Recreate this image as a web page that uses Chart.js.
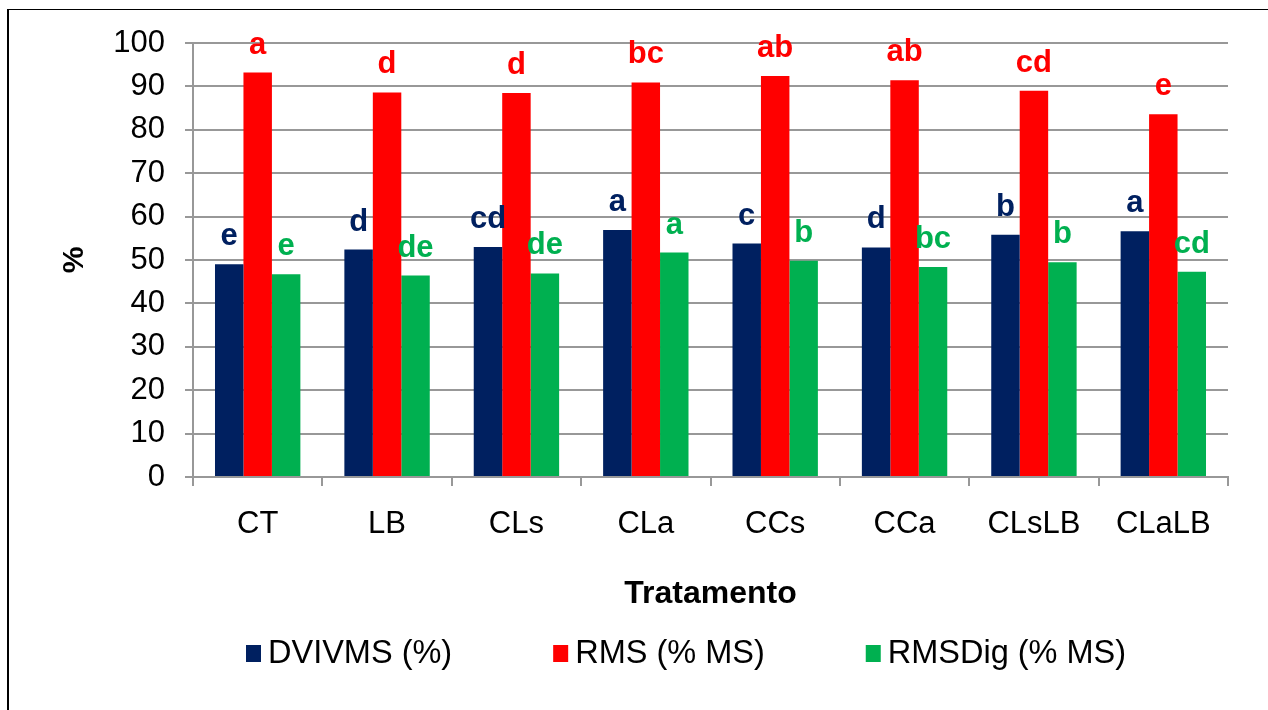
<!DOCTYPE html>
<html>
<head>
<meta charset="utf-8">
<script src="https://cdn.jsdelivr.net/npm/chart.js@4"></script>
<style>
  html, body { margin: 0; padding: 0; background: #fff; }
  #wrap { position: relative; width: 1268px; height: 710px; overflow: hidden; }
  #frame { position: absolute; left: 7px; top: 9px; width: 1280px; height: 720px;
           border-left: 2px solid #000; border-top: 1px solid #000; pointer-events: none; }
  canvas { position: absolute; left: 0; top: 0; }
</style>
</head>
<body>
<div id="wrap">
  <canvas id="c" width="1268" height="710"></canvas>
  <div id="frame"></div>
</div>
<script>
// Treatments on the x axis
const categories = ['CT', 'LB', 'CLs', 'CLa', 'CCs', 'CCa', 'CLsLB', 'CLaLB'];

// Series values (%)
const dvivms = [49.0, 52.4, 53.0, 56.9, 53.8, 52.9, 55.8, 56.6];
const rms    = [93.2, 88.6, 88.5, 90.9, 92.4, 91.4, 89.0, 83.6];
const rmsdig = [46.7, 46.4, 46.9, 51.7, 49.8, 48.4, 49.5, 47.3];

// Mean-comparison letters above each bar
const dvivmsLetters = ['e', 'd', 'cd', 'a', 'c', 'd', 'b', 'a'];
const rmsLetters    = ['a', 'd', 'd', 'bc', 'ab', 'ab', 'cd', 'e'];
const rmsdigLetters = ['e', 'de', 'de', 'a', 'b', 'bc', 'b', 'cd'];

// Series names and y tick values
const seriesNames = ['DVIVMS (%)', 'RMS (% MS)', 'RMSDig (% MS)'];
const yTicks = [0, 10, 20, 30, 40, 50, 60, 70, 80, 90, 100];

const colors = ['#002060', '#FF0000', '#00B050'];
const FONT = '"Liberation Sans", Arial, Helvetica, sans-serif';
const gridColor = '#989898';

// Letters drawn centred above each bar, from the bar elements
const letterPlugin = {
  id: 'letters',
  afterDatasetsDraw(chart) {
    const { ctx } = chart;
    const sets = [dvivmsLetters, rmsLetters, rmsdigLetters];
    ctx.save();
    ctx.font = 'bold 31px ' + FONT;
    ctx.textAlign = 'center';
    ctx.textBaseline = 'alphabetic';
    chart.data.datasets.forEach((ds, di) => {
      const meta = chart.getDatasetMeta(di);
      ctx.fillStyle = colors[di];
      meta.data.forEach((bar, i) => {
        ctx.fillText(sets[di][i], bar.x, bar.y - 19);
      });
    });
    ctx.restore();
  }
};

// Legend row under the axis title
const legendRow = {
  id: 'legendRow',
  afterDraw(chart) {
    const { ctx } = chart;
    ctx.save();
    ctx.font = '32.5px ' + FONT;
    ctx.textBaseline = 'middle';
    ctx.textAlign = 'left';
    const cy = 653.5;
    let x = 246;
    chart.data.datasets.forEach((ds, i) => {
      ctx.fillStyle = ds.backgroundColor;
      ctx.fillRect(x, cy - 8.5, 15, 17);
      ctx.fillStyle = '#000';
      const tx = x + 22;
      ctx.fillText(ds.label, tx, cy + 1);
      x = tx + ctx.measureText(ds.label).width + 101;
    });
    ctx.restore();
  }
};

new Chart(document.getElementById('c'), {
  type: 'bar',
  data: {
    labels: categories,
    datasets: [
      { label: seriesNames[0], data: dvivms, backgroundColor: colors[0] },
      { label: seriesNames[1], data: rms,    backgroundColor: colors[1] },
      { label: seriesNames[2], data: rmsdig, backgroundColor: colors[2] }
    ]
  },
  options: {
    responsive: false,
    animation: false,
    devicePixelRatio: 1,
    layout: { padding: { left: 8, right: 40, top: 43, bottom: 100 } },
    datasets: { bar: { categoryPercentage: 0.66, barPercentage: 1.0, borderWidth: 0 } },
    plugins: {
      legend: { display: false },
      tooltip: { enabled: false }
    },
    scales: {
      x: {
        offset: true,
        grid: { display: true, drawOnChartArea: false, drawTicks: true, tickLength: 9,
                color: gridColor, lineWidth: 2, offset: true },
        border: { display: true, color: gridColor, width: 2 },
        ticks: { color: '#000', font: { family: FONT, size: 31 }, padding: 20, maxRotation: 0 },
        title: { display: true, text: 'Tratamento', color: '#000',
                 font: { family: FONT, size: 32, weight: 'bold' }, padding: { top: 0, bottom: -3 } },
        afterFit(scale) { scale.height = 133; }
      },
      y: {
        min: 0, max: 100,
        afterBuildTicks(scale) { scale.ticks = yTicks.map(v => ({ value: v })); },
        grid: { color: gridColor, lineWidth: 2, tickLength: 8, drawTicks: true },
        border: { display: true, color: gridColor, width: 2 },
        ticks: { color: '#000', font: { family: FONT, size: 31 }, padding: 20 },
        title: { display: true, text: '%', color: '#000',
                 font: { family: FONT, size: 30, weight: 'bold' }, padding: { top: 49, bottom: 0 } },
        afterFit(scale) { scale.width = 185; }
      }
    }
  },
  plugins: [letterPlugin, legendRow]
});
</script>
</body>
</html>
